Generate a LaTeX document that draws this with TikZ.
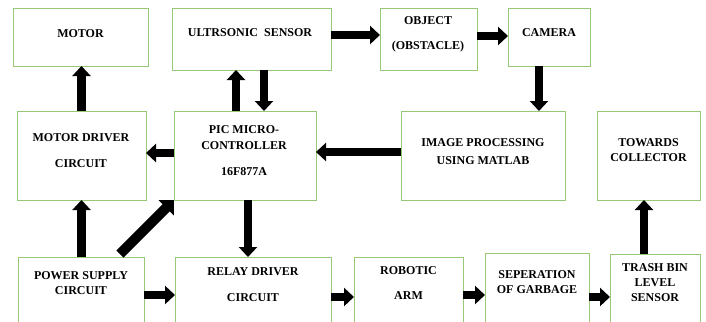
\documentclass[tikz,border=0pt]{standalone}
\usepackage{fontspec}
\setmainfont{Liberation Serif}
\usetikzlibrary{arrows.meta}
\definecolor{boxgreen}{RGB}{150,200,120}
\tikzset{
  box/.style={draw=boxgreen, line width=1pt, fill=white, inner sep=0pt, outer sep=0pt},
  lbl/.style={font=\fontsize{12}{15}\selectfont\bfseries, align=center, inner sep=0pt},
  arr/.style={line width=8.5pt, -{Triangle[width=18pt,length=10pt]}},
  darr/.style={line width=10pt, -{Triangle[width=21pt,length=11pt]}},
}
\begin{document}
\begin{tikzpicture}[x=1pt,y=-1pt]
\useasboundingbox (0,0) rectangle (706,321);
% boxes
\node[box, minimum width=135pt, minimum height=57pt] (motor) at (80.5,37.5) {};
\node[box, minimum width=159pt, minimum height=61pt] (ultra) at (251.5,39.5) {};
\node[box, minimum width=97pt, minimum height=61pt] (object) at (428.5,39.5) {};
\node[box, minimum width=82pt, minimum height=57pt] (camera) at (549,37.5) {};
\node[box, minimum width=129pt, minimum height=89pt] (mdrv) at (81.5,155.5) {};
\node[box, minimum width=142pt, minimum height=89pt] (pic) at (245,155.5) {};
\node[box, minimum width=164pt, minimum height=89pt] (imgp) at (483,155.5) {};
\node[box, minimum width=103pt, minimum height=89pt] (towards) at (648.5,155.5) {};
\node[box, minimum width=126pt, minimum height=83pt] (power) at (81,298.5) {};
\node[box, minimum width=156pt, minimum height=83pt] (relay) at (253,298.5) {};
\node[box, minimum width=109pt, minimum height=83pt] (robot) at (408.5,298.5) {};
\node[box, minimum width=104pt, minimum height=87pt] (sep) at (537,296.5) {};
\node[box, minimum width=90pt, minimum height=86pt] (trash) at (655,297) {};
% labels
\node[lbl] (motor-t) at (80.5,34) {MOTOR};
\node[lbl] (ultra-t) at (250,32.5) {ULTRSONIC\ \ SENSOR};
\node[lbl] (object-t) at (428,34) {OBJECT\\[10pt](OBSTACLE)};
\node[lbl] (camera-t) at (549,33) {CAMERA};
\node[lbl] (mdrv-t) at (81,150.5) {MOTOR DRIVER\\[11pt]CIRCUIT};
\node[lbl] (pic-t) at (244,150.5) {PIC MICRO-\\[1pt]CONTROLLER\\[11pt]16F877A};
\node[lbl] (imgp-t) at (483,151.5) {IMAGE PROCESSING\\[3pt]USING MATLAB};
\node[lbl] (towards-t) at (648.5,150) {TOWARDS\\COLLECTOR};
\node[lbl] (power-t) at (81,283.5) {POWER SUPPLY\\CIRCUIT};
\node[lbl] (relay-t) at (253,284.5) {RELAY DRIVER\\[11pt]CIRCUIT};
\node[lbl] (robot-t) at (408.5,283) {ROBOTIC\\[10pt]ARM};
\node[lbl] (sep-t) at (537,282) {SEPERATION\\OF GARBAGE};
\node[lbl] (trash-t) at (655,283) {TRASH BIN\\LEVEL\\SENSOR};
% helper coordinates
\coordinate (x236) at (236,0);
\coordinate (x264) at (264,0);
\coordinate (x248) at (248,0);
\coordinate (x539) at (539,0);
\coordinate (x644) at (644,0);
\coordinate (y35) at (0,35);
\coordinate (y36) at (0,36);
\coordinate (y152) at (0,152);
\coordinate (y153) at (0,153);
\coordinate (y295) at (0,295);
\coordinate (y297) at (0,297);
\coordinate (dstart) at (120,254);
% arrows
\draw[arr] (mdrv.north) -- (mdrv.north |- motor.south);
\draw[arr] (pic.north -| x236) -- (ultra.south -| x236);
\draw[arr] (ultra.south -| x264) -- (pic.north -| x264);
\draw[arr] (ultra.east |- y35) -- (object.west |- y35);
\draw[arr] (object.east |- y36) -- (camera.west |- y36);
\draw[arr] (camera.south -| x539) -- (imgp.north -| x539);
\draw[arr] (imgp.west |- y152) -- (pic.east |- y152);
\draw[arr] (pic.west |- y153) -- (mdrv.east |- y153);
\draw[arr] (power.north -| mdrv.north) -- (mdrv.south);
\draw[darr] (dstart) -- (pic.south west);
\draw[arr] (pic.south -| x248) -- (relay.north -| x248);
\draw[arr] (power.east |- y295) -- (relay.west |- y295);
\draw[arr] (relay.east |- y297) -- (robot.west |- y297);
\draw[arr] (robot.east |- y295) -- (sep.west |- y295);
\draw[arr] (sep.east |- y297) -- (trash.west |- y297);
\draw[arr] (trash.north -| x644) -- (towards.south -| x644);
\end{tikzpicture}
\end{document}
